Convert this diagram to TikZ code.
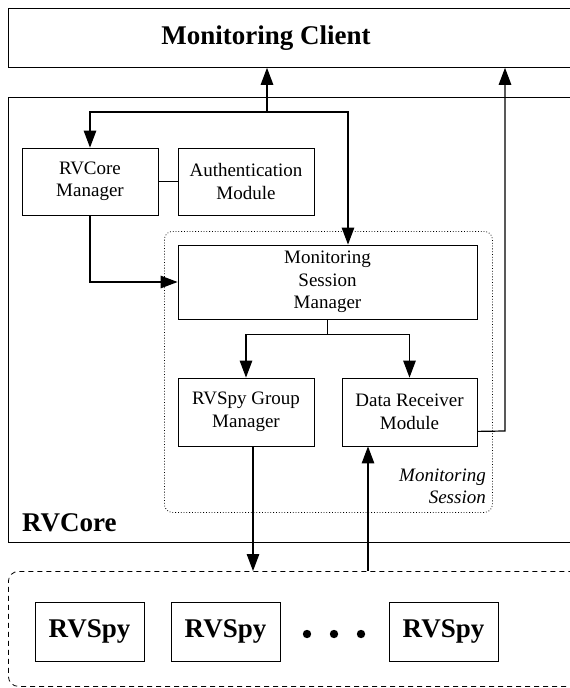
\documentclass[tikz,border=0pt]{standalone}
\usepackage{fontspec}
\setmainfont{Liberation Serif}
\usetikzlibrary{arrows.meta,calc}
\begin{document}
\begin{tikzpicture}[x=1pt,y=-1pt,
  box/.style={draw,line width=0.8pt,rectangle,inner sep=0pt,align=center,font=\fontsize{19}{22.5}\selectfont},
  big/.style={font=\fontsize{27}{30}\selectfont\bfseries,inner sep=0pt},
  arr/.style={line width=1.2pt,-{Triangle[length=17pt,width=12.5pt]}},
  ln/.style={line width=1.2pt}]
\useasboundingbox (0,0) rectangle (570,688);
\clip (0,0) rectangle (570,688);
% outer boxes
\node[box,minimum width=575,minimum height=59,anchor=north west] (client) at (8,8) {};
\node[big] (clienttext) at (266,38) {Monitoring Client};
\node[box,minimum width=575,minimum height=445,anchor=north west] (core) at (8,97) {};
\node[big,anchor=south west] (coretext) at (22,532) {RVCore};
\node[draw,dotted,line width=0.8pt,rounded corners=8pt,minimum width=328,minimum height=281,anchor=north west,inner sep=0pt] (session) at (164,231) {};
\node[align=right,anchor=south east,font=\fontsize{19}{22}\selectfont\itshape,inner sep=0pt] (sessiontext) at (486,504) {Monitoring\\Session};
\node[draw,dashed,dash pattern=on 5pt off 4pt,line width=0.8pt,rounded corners=10pt,minimum width=575,minimum height=115,anchor=north west,inner sep=0pt] (spies) at (8,571) {};
% inner boxes
\node[box,minimum width=136,minimum height=67] (rvm) at (90,181.5) {RVCore\\Manager};
\node[box,minimum width=136,minimum height=67] (auth) at (246,181.5) {Authentication\\Module};
\node[box,minimum width=299,minimum height=74] (msm) at (327.5,282) {Monitoring\\Session\\Manager};
\node[box,minimum width=136,minimum height=68] (rgm) at (246,412) {RVSpy Group\\Manager};
\node[box,minimum width=135,minimum height=68] (drm) at (409.5,412) {Data Receiver\\Module};
% spies
\node[box,minimum width=109,minimum height=59,font=\fontsize{27}{30}\selectfont\bfseries] (s1) at (89.5,631.5) {RVSpy};
\node[box,minimum width=109,minimum height=59,font=\fontsize{27}{30}\selectfont\bfseries] (s2) at (225.5,631.5) {RVSpy};
\node[box,minimum width=109,minimum height=59,font=\fontsize{27}{30}\selectfont\bfseries] (s3) at (443.5,631.5) {RVSpy};
\fill (307,634) circle (4.2) (334,634) circle (4.2) (361,634) circle (4.2);
% connectors
\coordinate (j1) at (267,112);
\coordinate (j1l) at (90,112);
\coordinate (j1r) at (348,112);
\draw[arr] (j1) -- (j1 |- client.south);
\draw[arr] (j1) -- (j1l) -- (rvm.north);
\draw[arr] (j1) -- (j1r) -- (j1r |- msm.north);
\draw[ln] (rvm.east) -- (auth.west);
\draw[arr] (rvm.south) |- (msm.west);
\coordinate (j2) at ($(msm.south)+(0,15)$);
\draw[ln] (msm.south) -- (j2);
\draw[arr] (j2) -| (rgm.north);
\draw[arr] (j2) -| (drm.north);
\coordinate (dout) at ($(drm.south east)+(0,-15)$);
\coordinate (r2) at (505,431);
\draw[arr] (dout) -- (r2) -- (r2 |- client.south);
\coordinate (dn) at ($(rgm.south)+(7,0)$);
\draw[arr] (dn) -- (dn |- spies.north);
\coordinate (upx) at (368,571);
\draw[arr] (upx) -- (upx |- drm.south);
\end{tikzpicture}
\end{document}
